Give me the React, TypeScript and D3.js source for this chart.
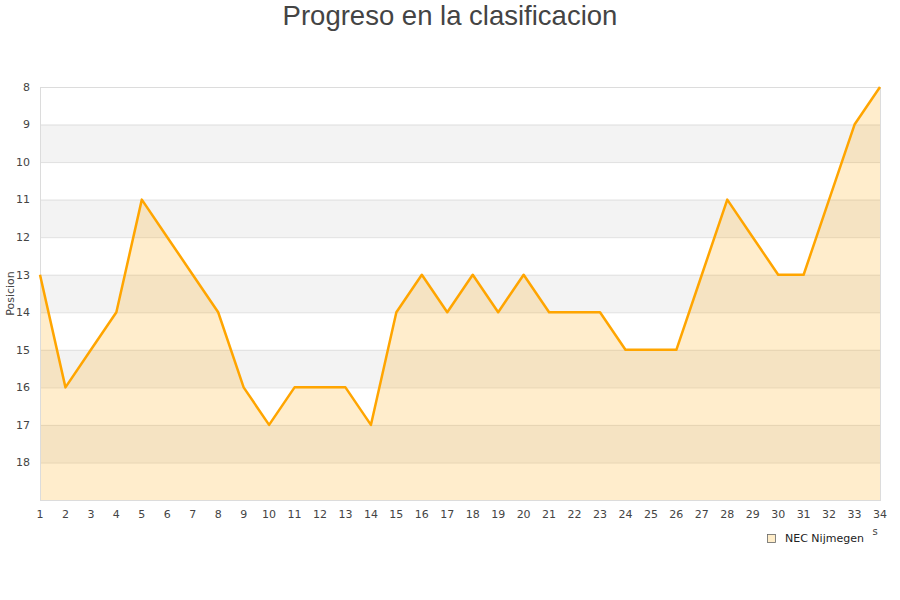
import { useEffect, useRef } from 'react';
import * as d3 from 'd3';

const jornadas = [
  1, 2, 3, 4, 5, 6, 7, 8, 9, 10, 11, 12, 13, 14, 15, 16, 17,
  18, 19, 20, 21, 22, 23, 24, 25, 26, 27, 28, 29, 30, 31, 32, 33, 34,
];
const posiciones = [
  13, 16, 15, 14, 11, 12, 13, 14, 16, 17, 16, 16, 16, 17, 14, 13, 14,
  13, 14, 13, 14, 14, 14, 15, 15, 15, 13, 11, 12, 13, 13, 11, 9, 8,
];
const yTicks = [8, 9, 10, 11, 12, 13, 14, 15, 16, 17, 18];
const bandas = [9, 11, 13, 15, 17];
const equipo = 'NEC Nijmegen';
const titulo = 'Progreso en la clasificacion';

export default function App() {
  const ref = useRef<SVGSVGElement | null>(null);

  useEffect(() => {
    const width = 900;
    const height = 600;
    const margin = { top: 87, right: 20, bottom: 100, left: 40 };
    const font = '"DejaVu Sans", sans-serif';

    const svg = d3.select(ref.current);
    svg.selectAll('*').remove();
    svg.attr('width', width).attr('height', height).style('display', 'block');

    const x = d3.scaleLinear().domain([1, 34]).range([margin.left, width - margin.right]);
    const y = d3.scaleLinear().domain([8, 19]).range([margin.top, height - margin.bottom]);

    // bandas alternas
    svg.append('g')
      .selectAll('rect')
      .data(bandas)
      .enter().append('rect')
      .attr('x', x(1))
      .attr('y', d => y(d))
      .attr('width', x(34) - x(1))
      .attr('height', d => y(d + 1) - y(d))
      .attr('fill', '#f3f3f3');

    // lineas de la rejilla
    svg.append('g')
      .selectAll('line')
      .data(yTicks)
      .enter().append('line')
      .attr('x1', x(1))
      .attr('x2', x(34))
      .attr('y1', d => y(d) + 0.5)
      .attr('y2', d => y(d) + 0.5)
      .attr('stroke', '#e0e0e0');

    const data = jornadas.map((j, i) => ({ j, p: posiciones[i] }));

    const area = d3.area<{ j: number; p: number }>()
      .x(d => x(d.j))
      .y0(y(19))
      .y1(d => y(d.p));

    const line = d3.line<{ j: number; p: number }>()
      .x(d => x(d.j))
      .y(d => y(d.p));

    svg.append('path')
      .datum(data)
      .attr('d', area)
      .attr('fill', '#ffa500')
      .attr('fill-opacity', 0.2);

    // bordes
    svg.append('rect')
      .attr('x', x(1) + 0.5)
      .attr('y', y(8) + 0.5)
      .attr('width', x(34) - x(1))
      .attr('height', y(19) - y(8))
      .attr('fill', 'none')
      .attr('stroke', '#dcdcdc');

    svg.append('path')
      .datum(data)
      .attr('d', line)
      .attr('fill', 'none')
      .attr('stroke', '#ffa500')
      .attr('stroke-width', 2.5)
      .attr('stroke-linejoin', 'round');

    // ejes
    svg.append('g')
      .attr('font-family', font)
      .attr('font-size', 11)
      .attr('fill', '#444')
      .attr('text-anchor', 'end')
      .selectAll('text')
      .data(yTicks)
      .enter().append('text')
      .attr('x', 30)
      .attr('y', d => y(d))
      .attr('dy', '0.35em')
      .text(d => d);

    svg.append('g')
      .attr('font-family', font)
      .attr('font-size', 11)
      .attr('fill', '#444')
      .attr('text-anchor', 'middle')
      .selectAll('text')
      .data(jornadas)
      .enter().append('text')
      .attr('x', d => x(d))
      .attr('y', 518)
      .text(d => d);

    svg.append('text')
      .attr('transform', `translate(14,${(y(8) + y(19)) / 2}) rotate(-90)`)
      .attr('text-anchor', 'middle')
      .attr('font-family', font)
      .attr('font-size', 11)
      .attr('fill', '#444')
      .text('Posicion');

    svg.append('text')
      .attr('x', 875)
      .attr('y', 535)
      .attr('text-anchor', 'middle')
      .attr('font-family', font)
      .attr('font-size', 10)
      .attr('fill', '#444')
      .text('s');

    // titulo
    svg.append('text')
      .attr('x', width / 2)
      .attr('y', 25)
      .attr('text-anchor', 'middle')
      .attr('font-family', '"Liberation Sans", Arial, sans-serif')
      .attr('font-size', 27.5)
      .attr('fill', '#444')
      .text(titulo);

    // leyenda
    const legend = svg.append('g').attr('transform', 'translate(767,534)');
    legend.append('rect')
      .attr('x', 0.5)
      .attr('y', 0.5)
      .attr('width', 8)
      .attr('height', 8)
      .attr('fill', '#ffedc9')
      .attr('stroke', '#666')
      .attr('stroke-width', 0.8);
    legend.append('text')
      .attr('x', 18)
      .attr('y', 4.5)
      .attr('dy', '0.35em')
      .attr('font-family', font)
      .attr('font-size', 11)
      .attr('fill', '#222')
      .text(equipo);
  }, []);

  return <svg ref={ref} style={{ position: 'absolute', left: 0, top: 0 }}></svg>;
}
